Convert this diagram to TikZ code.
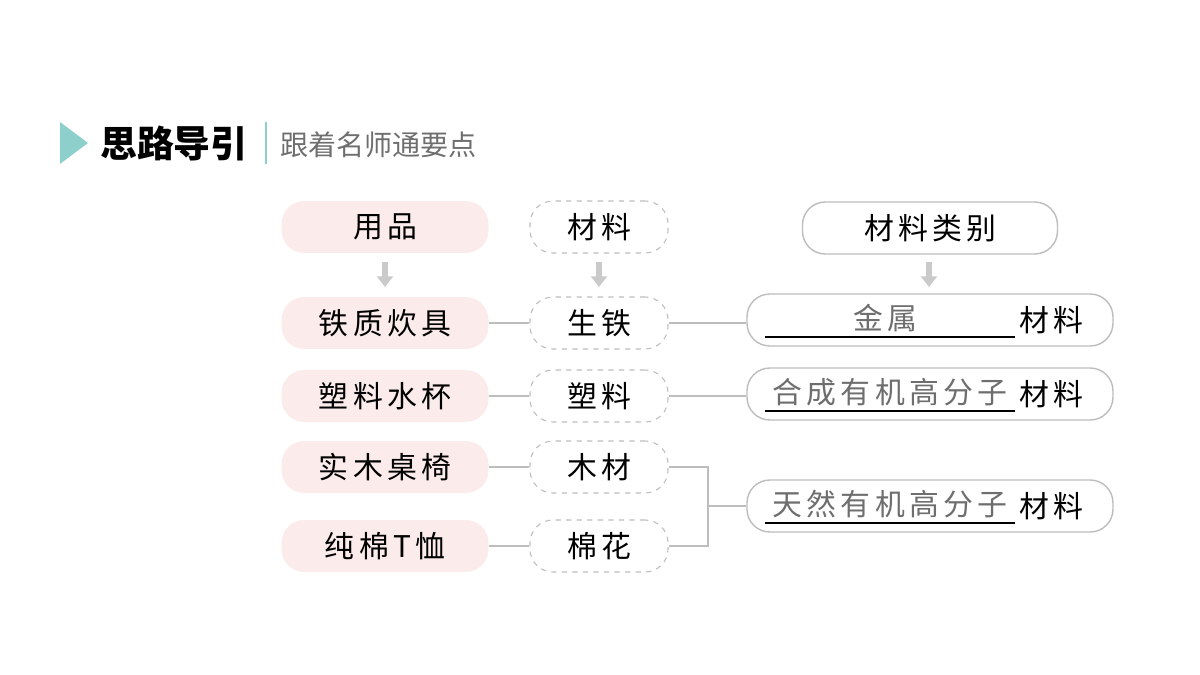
\documentclass[tikz,border=0pt]{standalone}
\usepackage{fontspec}
\setmainfont{Noto Sans CJK SC}
\newfontfamily\spaced[LetterSpace=14]{Noto Sans CJK SC}
\usetikzlibrary{arrows.meta}
\definecolor{pinkf}{HTML}{FBEBEB}
\definecolor{teal}{HTML}{8CCFCB}
\definecolor{bord}{HTML}{BDBDBD}
\definecolor{ans}{HTML}{6E6E6E}
\begin{document}
\begin{tikzpicture}[x=0.02cm,y=-0.02cm,
 fs/.style={font=\spaced\fontsize{17}{19}\selectfont},
 pk/.style={fs,rounded corners=13pt,fill=pinkf,draw=none,minimum width=207*0.02cm,minimum height=52*0.02cm,inner sep=0pt},
 md/.style={fs,rounded corners=13pt,draw=bord,dashed,line width=0.6pt,fill=white,minimum width=138*0.02cm,minimum height=52*0.02cm,inner sep=0pt},
 rt/.style={fs,rounded corners=13pt,draw=bord,line width=0.8pt,fill=white,minimum width=366*0.02cm,minimum height=52*0.02cm,inner sep=0pt},
 ln/.style={draw=bord,line width=0.8pt},
 ul/.style={line width=1pt},
 dn/.style={-{Triangle[width=9pt,length=6pt]},draw=bord!80,line width=3pt}]
\useasboundingbox (0,0) rectangle (1200,675);
\fill[teal] (60,122) -- (88,143) -- (60,164) -- cycle;
\node[anchor=west,font=\fontsize{21}{24}\selectfont\bfseries] (t1) at (94,143) {思路导引};
\draw[teal,line width=1.5pt] (266,122) -- (266,164);
\node[anchor=west,font=\fontsize{16}{18}\selectfont,text=ans] (t2) at (274,145) {跟着名师通要点};
% left
\node[pk] (a0) at (385,227) {用品};
\node[pk] (a1) at (385,323) {铁质炊具};
\node[pk] (a2) at (385,396) {塑料水杯};
\node[pk] (a3) at (385,467) {实木桌椅};
\node[pk] (a4) at (385,546) {纯棉T恤};
% middle
\node[md] (b0) at (599,227) {材料};
\node[md] (b1) at (599,323) {生铁};
\node[md] (b2) at (599,396) {塑料};
\node[md] (b3) at (599,467) {木材};
\node[md] (b4) at (599,546) {棉花};
% right
\node[rt,minimum width=255*0.02cm] (c0) at (930,228) {材料类别};
\node[rt] (c1) at (930,320) {};
\node[rt] (c2) at (930,394) {};
\node[rt] (c3) at (930,506) {};
\node[fs,text=ans] (g1) at (885,318) {金属};
\node[fs,text=ans] (g2) at (890,392) {合成有机高分子};
\node[fs,text=ans] (g3) at (890,504) {天然有机高分子};
\node[fs,anchor=west] (m1) at (1013,320) {材料};
\node[fs,anchor=west] (m2) at (1013,394) {材料};
\node[fs,anchor=west] (m3) at (1013,506) {材料};
\coordinate (u1a) at (765,337); \coordinate (u1b) at (1015,337);
\coordinate (u2a) at (765,411); \coordinate (u2b) at (1015,411);
\coordinate (u3a) at (765,523); \coordinate (u3b) at (1015,523);
\draw[ul] (u1a) -- (u1b); \draw[ul] (u2a) -- (u2b); \draw[ul] (u3a) -- (u3b);
% arrows
\coordinate (p0) at (385,262); \coordinate (q0) at (385,287);
\coordinate (p1) at (599,262); \coordinate (q1) at (599,287);
\coordinate (p2) at (929,262); \coordinate (q2) at (929,287);
\draw[dn] (p0) -- (q0); \draw[dn] (p1) -- (q1); \draw[dn] (p2) -- (q2);
% connectors
\foreach \i in {1,2,3,4}{\draw[ln] (a\i.east) -- (b\i.west);}
\draw[ln] (b1.east) -- (c1.west|-b1.east);
\draw[ln] (b2.east) -- (c2.west|-b2.east);
\coordinate (k) at (708,506);
\draw[ln] (b3.east) -| (k) |- (b4.east);
\draw[ln] (k) -- (c3.west);
\end{tikzpicture}
\end{document}
